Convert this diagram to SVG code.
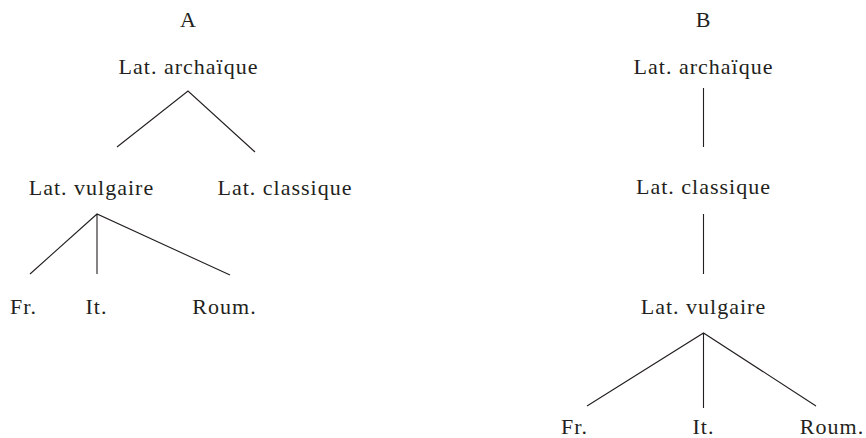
<svg xmlns="http://www.w3.org/2000/svg" width="866" height="438" viewBox="0 0 866 438">
  <style>
    text { font-family: "Liberation Serif", "Times New Roman", serif; font-size: 22px; letter-spacing: 1px; fill: #231f20; text-anchor: middle; }
    .edge { stroke: #231f20; stroke-width: 1.1; fill: none; }
  </style>
  <rect width="866" height="438" fill="#ffffff"/>

  <!-- Tree A -->
  <g id="titleA"><text x="188.5" y="27">A</text></g>
  <g id="a-archaique"><text x="188.5" y="74">Lat. archaïque</text></g>
  <g id="a-vulgaire"><text x="91.5" y="195">Lat. vulgaire</text></g>
  <g id="a-classique"><text x="285" y="195">Lat. classique</text></g>
  <g id="a-fr"><text x="23.5" y="314">Fr.</text></g>
  <g id="a-it"><text x="96.5" y="314">It.</text></g>
  <g id="a-roum"><text x="224.5" y="314">Roum.</text></g>

  <!-- Tree B -->
  <g id="titleB"><text x="703.5" y="27">B</text></g>
  <g id="b-archaique"><text x="703.5" y="74">Lat. archaïque</text></g>
  <g id="b-classique"><text x="703.5" y="194">Lat. classique</text></g>
  <g id="b-vulgaire"><text x="703.5" y="314">Lat. vulgaire</text></g>
  <g id="b-fr"><text x="574.5" y="434">Fr.</text></g>
  <g id="b-it"><text x="703.5" y="434">It.</text></g>
  <g id="b-roum"><text x="832" y="434">Roum.</text></g>

  <!-- Connectors -->
  <g id="connectors" class="edge">
    <path class="edge" d="M117 147 L188 91 L255 152"/>
    <path class="edge" d="M30 274 L97 214 L230 275 M97 214 V274"/>
    <path class="edge" d="M703.5 88 V147"/>
    <path class="edge" d="M703.5 214 V274"/>
    <path class="edge" d="M587 406 L703.5 333 L816 406 M703.5 333 V408"/>
  </g>
</svg>
